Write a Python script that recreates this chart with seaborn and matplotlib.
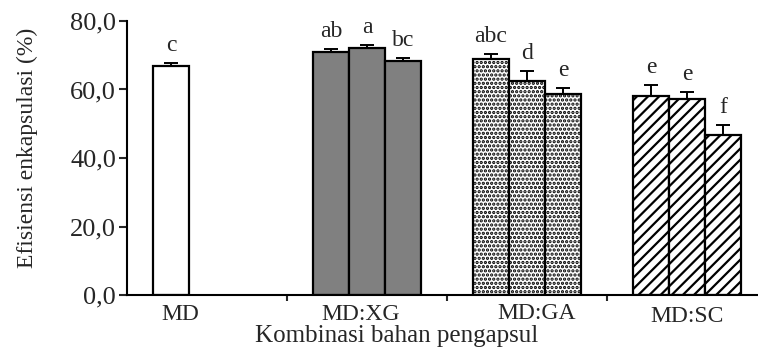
import matplotlib
matplotlib.use("Agg")
import matplotlib.pyplot as plt
import matplotlib.transforms as mtransforms
from matplotlib.container import BarContainer
import seaborn as sns
import pandas as pd
import numpy as np

# ---- data ----
groups = ["MD", "MD:XG", "MD:GA", "MD:SC"]
samples = ["1", "2", "3"]
md_vals = [67.0]
xg_vals = [70.9, 72.0, 68.3]
ga_vals = [68.8, 62.5, 58.8]
sc_vals = [58.2, 57.1, 46.8]
md_err = [0.8]
xg_err = [1.0, 1.1, 1.0]
ga_err = [1.6, 3.0, 1.6]
sc_err = [3.0, 2.1, 2.8]
md_letters = ["c"]
xg_letters = ["ab", "a", "bc"]
ga_letters = ["abc", "d", "e"]
sc_letters = ["e", "e", "f"]
yticks = [0, 20, 40, 60, 80]
ytick_labels = ["0,0", "20,0", "40,0", "60,0", "80,0"]
xlabel = "Kombinasi bahan pengapsul"
ylabel = "Efisiensi enkapsulasi (%)"

vals = {"MD": md_vals, "MD:XG": xg_vals, "MD:GA": ga_vals, "MD:SC": sc_vals}
errs = {"MD": md_err, "MD:XG": xg_err, "MD:GA": ga_err, "MD:SC": sc_err}
lets = {"MD": md_letters, "MD:XG": xg_letters, "MD:GA": ga_letters, "MD:SC": sc_letters}

rows = []
for g in groups:
    for i, v in enumerate(vals[g]):
        rows.append({"group": g, "sample": samples[i], "value": v})
df = pd.DataFrame(rows)

# ---- style ----
sns.set_style("ticks")
plt.rcParams["font.family"] = ["Liberation Serif", "DejaVu Serif"]
plt.rcParams["hatch.linewidth"] = 1.6
plt.rcParams["hatch.color"] = "black"

fig = plt.figure(figsize=(7.58, 3.47), dpi=100)
ax = fig.add_axes([127 / 758, 1 - 295 / 347, 640 / 758, 274 / 347])

sns.barplot(data=df, x="group", y="value", hue="sample", order=groups,
            hue_order=samples, width=0.675, errorbar=None, legend=False,
            edgecolor="black", linewidth=1.6, ax=ax)

face = {"MD": "white", "MD:XG": "#808080", "MD:GA": "white", "MD:SC": "white"}
hatch = {"MD": None, "MD:XG": None, "MD:GA": "....", "MD:SC": "///"}

bar_containers = [c for c in ax.containers if isinstance(c, BarContainer)]
for hi, cont in enumerate(bar_containers):
    for bar in list(cont.patches):
        h = bar.get_height()
        if h is None or np.isnan(h) or h == 0:
            continue
        cx = bar.get_x() + bar.get_width() / 2
        gi = int(round(cx))
        g = groups[gi]
        bar.set_facecolor(face[g])
        bar.set_edgecolor("black")
        if hatch[g]:
            bar.set_hatch(hatch[g])
        e = errs[g][hi]
        ax.errorbar([cx], [h], yerr=[[0], [e]], fmt="none", ecolor="black",
                    elinewidth=1.4, capsize=5, capthick=1.4, zorder=1)
        ax.annotate(lets[g][hi], xy=(cx, h + e), xytext=(0, 5),
                    textcoords="offset points", ha="center", va="bottom",
                    fontsize=17)

ax.set_ylim(0, 80)
ax.set_xlim(-0.5, 3.5)
ax.set_yticks(yticks)
ax.set_yticklabels(ytick_labels, fontsize=19)
ax.tick_params(axis="y", direction="out", length=6, width=1.5, pad=2)

# category boundary ticks, labels drawn as text
ax.set_xticks([0.5, 1.5, 2.5])
ax.set_xticklabels([])
ax.tick_params(axis="x", direction="out", length=4, width=1.5)
label_offsets = [-0.17, -0.04, 0.06, 0.0]
label_y = [-0.09, -0.09, -0.087, -0.1]
trans = mtransforms.blended_transform_factory(ax.transData, ax.transAxes)
for i, g in enumerate(groups):
    ax.text(i + label_offsets[i], label_y[i], g, transform=trans,
            ha="center", va="baseline", fontsize=17)

ax.set_xlabel(xlabel, fontsize=18)
ax.xaxis.set_label_coords(0.422, -0.17)
ax.xaxis.label.set_va("baseline")
ax.set_ylabel(ylabel, fontsize=17)
ax.yaxis.set_label_coords(-0.139, 0.538)

for s in ["top", "right"]:
    ax.spines[s].set_visible(False)
for s in ["left", "bottom"]:
    ax.spines[s].set_linewidth(1.5)
    ax.spines[s].set_color("black")

fig.savefig("out.png", dpi=100)
